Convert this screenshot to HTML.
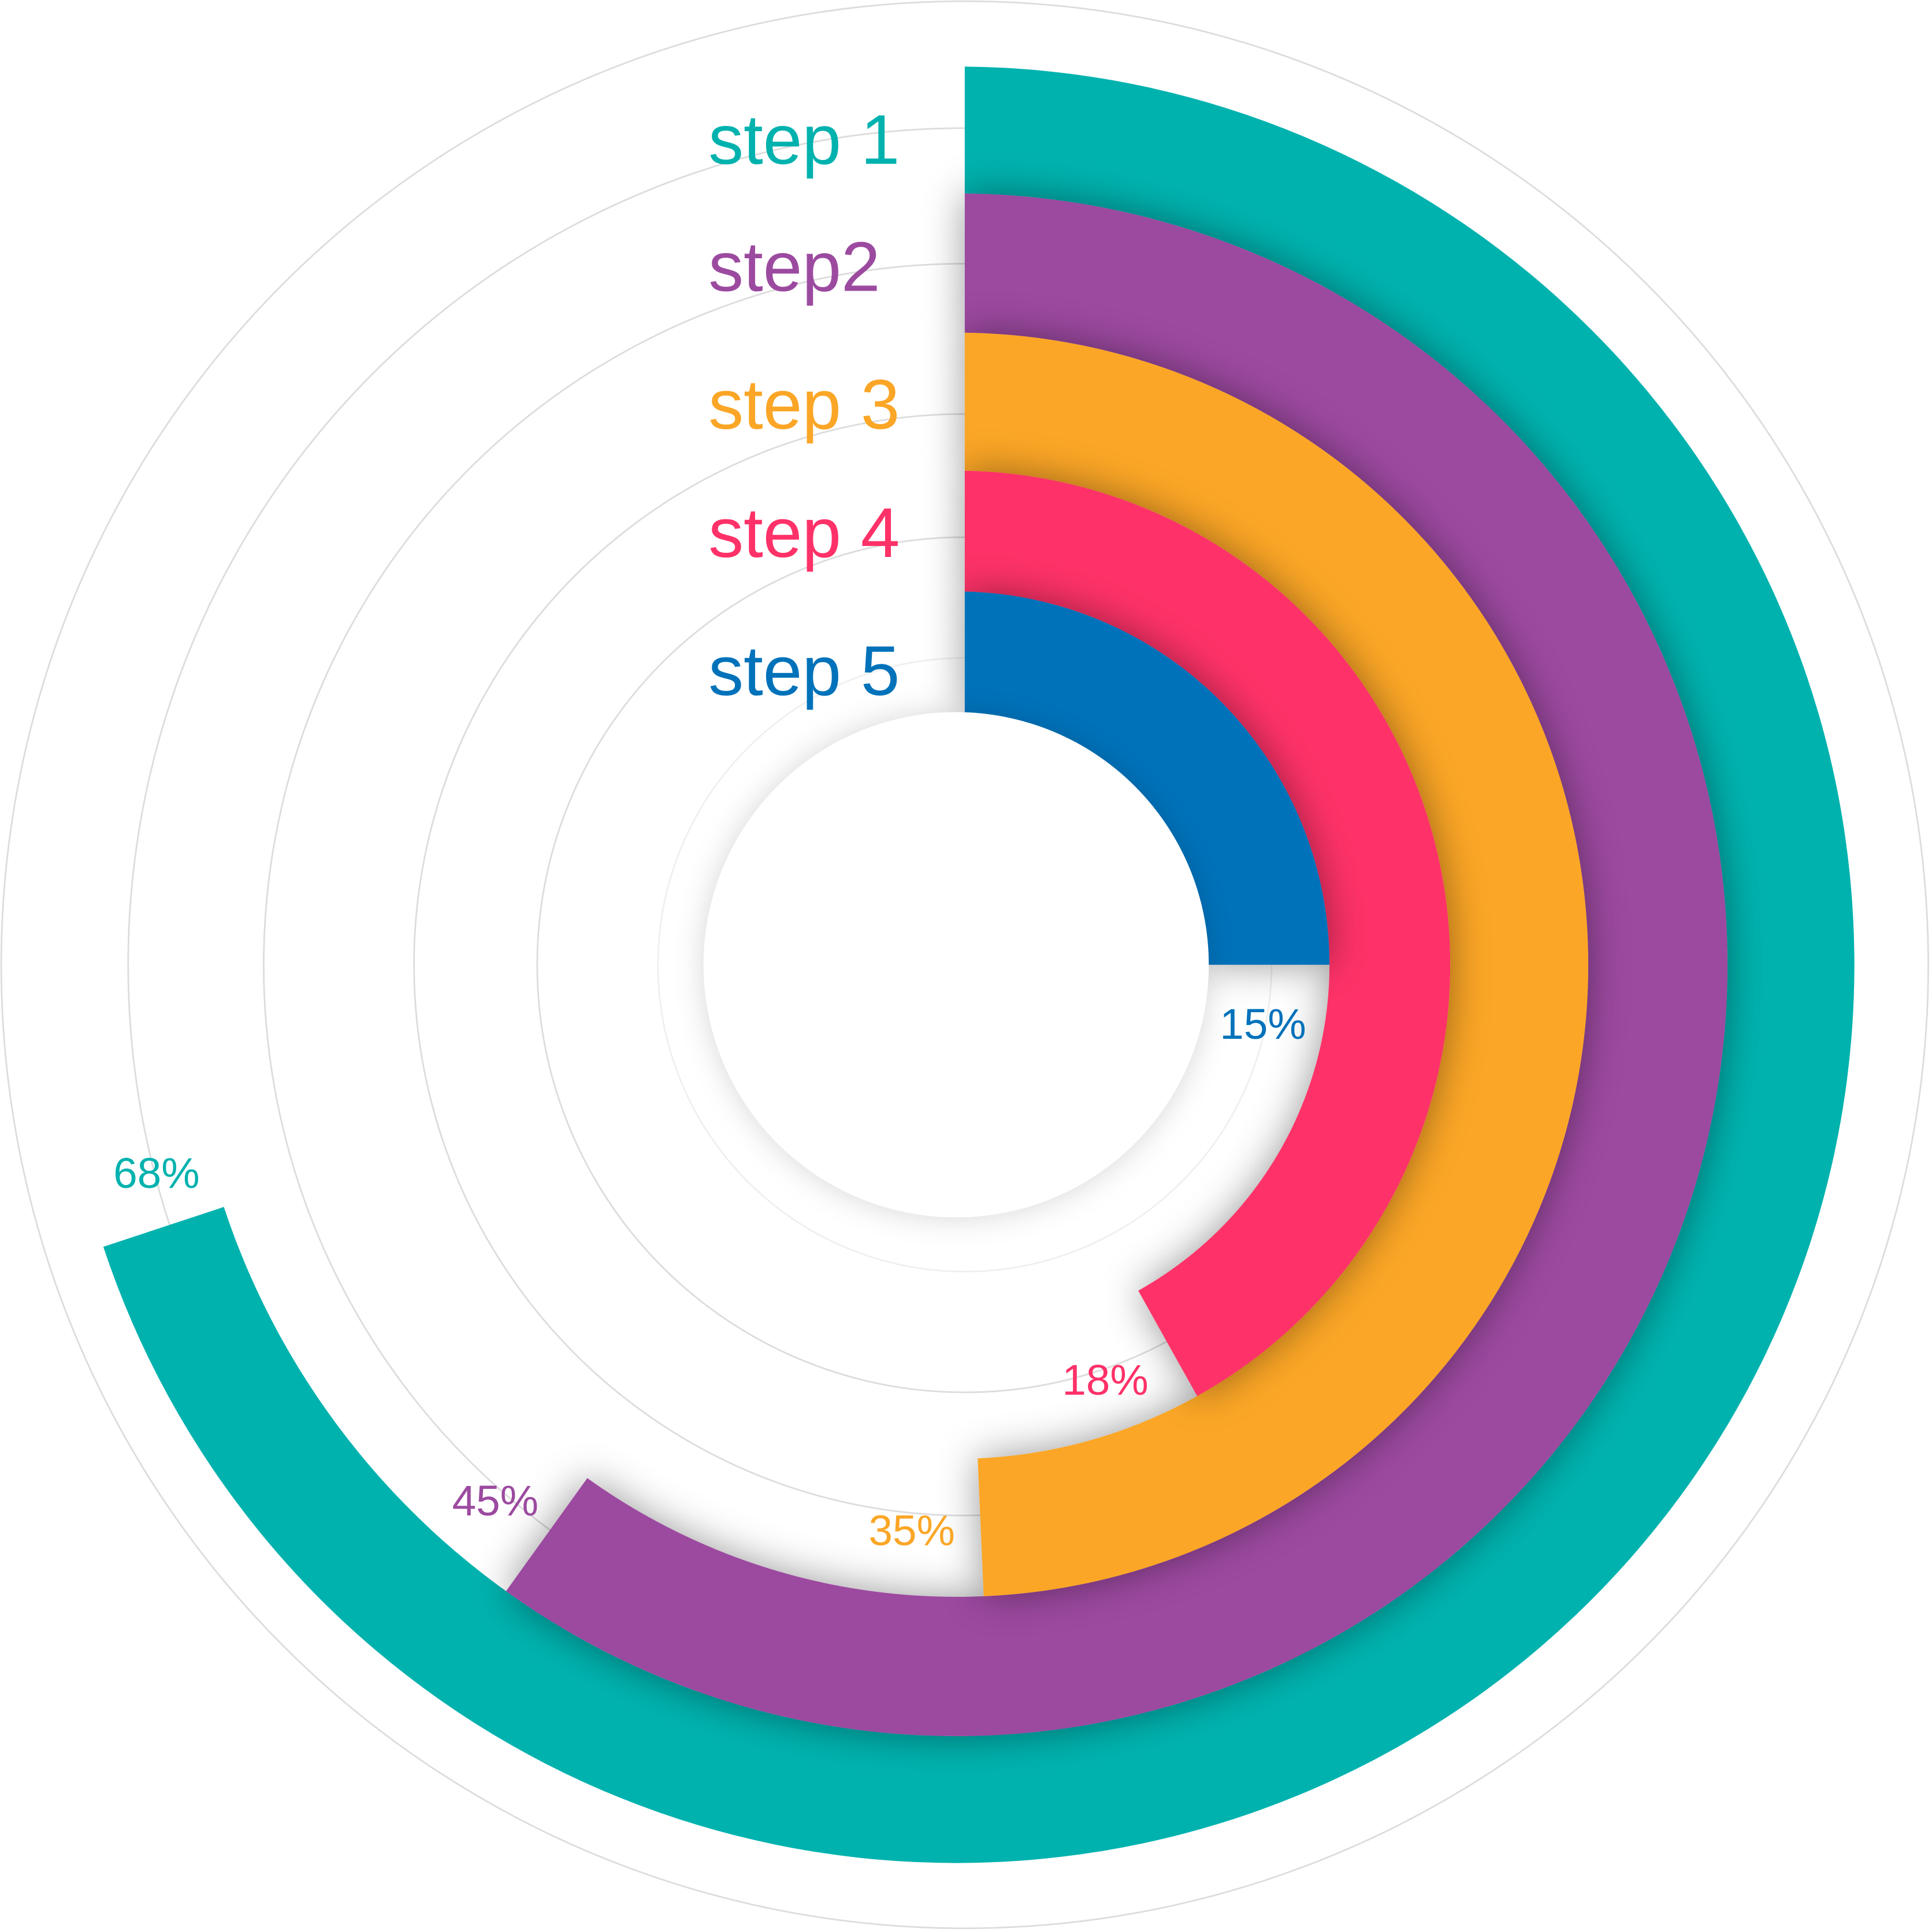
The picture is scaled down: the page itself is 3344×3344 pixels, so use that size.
<!DOCTYPE html>
<html><head><meta charset="utf-8"><style>html,body{margin:0;padding:0;background:#fff}svg{display:block}</style></head>
<body>
<svg id="chart" width="3344" height="3344" viewBox="0 0 1568 1568" xmlns="http://www.w3.org/2000/svg">
<defs>
<filter id="sh" x="-20%" y="-20%" width="140%" height="140%"><feDropShadow dx="0" dy="0" stdDeviation="16" flood-color="#000" flood-opacity="0.4"/></filter>
<filter id="sh2" x="-30%" y="-30%" width="160%" height="160%"><feDropShadow dx="0" dy="0" stdDeviation="12" flood-color="#000" flood-opacity="0.16"/></filter>
</defs>
<g id="grid"></g>
<g id="rings"></g>
<circle cx="776" cy="783" r="205" fill="#fff" filter="url(#sh2)"/>
<g id="labels" font-family="'Liberation Sans', sans-serif"></g>
</svg>
<script>
const categories = ["step 1","step2","step 3","step 4","step 5"];
const percentLabels = ["68%","45%","35%","18%","15%"];
const arcDegrees = [251.7, 215.7, 177.5, 150.8, 90];
const colors = ["#00B2AE","#9C4AA0","#FBA626","#FE3168","#0072BA"];
const cx = 776, cy = 783, startX = 783;
const outerR = [729, 626, 513, 401, 303];
const innerR = [626, 513, 401, 303, 205];
const gridR = [782, 679, 569, 447, 347, 249];
const NS = "http://www.w3.org/2000/svg";
function pt(r, deg){ const a = deg*Math.PI/180; return [cx + r*Math.sin(a), cy - r*Math.cos(a)]; }
function startAng(r){ return Math.asin((startX-cx)/r)*180/Math.PI; }
const grid = document.getElementById('grid');
gridR.forEach((r,i)=>{
  const c = document.createElementNS(NS,'circle');
  c.setAttribute('cx',783); c.setAttribute('cy',cy); c.setAttribute('r',r);
  c.setAttribute('fill','none'); c.setAttribute('stroke', i==5?'#efefef':'#dcdcdc'); c.setAttribute('stroke-width','1.3');
  
  
  grid.appendChild(c);
});
const rings = document.getElementById('rings');
categories.forEach((cat,i)=>{
  const th = arcDegrees[i], ro = outerR[i], ri = innerR[i];
  const a0 = startAng(ro), a1 = startAng(ri);
  const large = th - a0 > 180 ? 1 : 0;
  const large2 = th - a1 > 180 ? 1 : 0;
  const [x1,y1] = pt(ro,a0), [x2,y2] = pt(ro,th), [x3,y3] = pt(ri,th), [x4,y4] = pt(ri,a1);
  const d = `M${x1},${y1} A${ro},${ro} 0 ${large} 1 ${x2},${y2} L${x3},${y3} A${ri},${ri} 0 ${large2} 0 ${x4},${y4} Z`;
  const p = document.createElementNS(NS,'path');
  p.setAttribute('d', d); p.setAttribute('fill', colors[i]);
  if (i>0) p.setAttribute('filter','url(#sh)');
  
  
  rings.appendChild(p);
});
const labels = document.getElementById('labels');
const stepY = [133, 236, 348, 452, 564];
const pctPos = [[92,964],[367,1230],[705,1254],[862,1132],[990,843]];
categories.forEach((cat,i)=>{
  const t = document.createElementNS(NS,'text');
  t.setAttribute('x', 575); t.setAttribute('y', stepY[i]);
  t.setAttribute('font-size', 57); t.setAttribute('fill', colors[i]);
  t.textContent = cat;
  
  
  labels.appendChild(t);
  const q = document.createElementNS(NS,'text');
  q.setAttribute('x', pctPos[i][0]); q.setAttribute('y', pctPos[i][1]);
  q.setAttribute('font-size', 35); q.setAttribute('fill', colors[i]);
  q.textContent = percentLabels[i];
  
  
  labels.appendChild(q);
});
</script>
</body></html>
